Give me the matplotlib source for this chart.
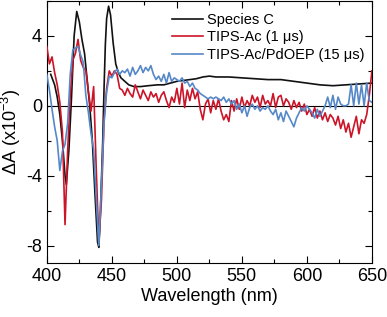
import numpy as np
import matplotlib
matplotlib.use("Agg")
import matplotlib.pyplot as plt
from matplotlib.ticker import MultipleLocator

plt.rcParams['font.family'] = ['Liberation Sans', 'DejaVu Sans']
plt.rcParams['mathtext.fontset'] = 'custom'
plt.rcParams['mathtext.rm'] = 'Liberation Sans'
plt.rcParams['mathtext.it'] = 'Liberation Sans:italic'
plt.rcParams['axes.unicode_minus'] = False

# Species C (smooth spectrum)
wl_c = [403, 406, 408, 410, 412, 414, 415, 417, 419, 421, 423, 425, 427, 429,
        431, 433, 435, 437, 439, 440, 441, 443, 444, 445, 446, 447.5, 449, 451,
        453, 455, 457, 460, 463, 467, 472, 478, 485, 490, 495, 500, 505, 510,
        515, 520, 525, 530, 540, 550, 560, 570, 580, 590, 600, 610, 620, 630,
        640, 650]
species_c = [1.8, 1.2, 0.5, -0.5, -2.0, -4.0, -4.5, -2.5, 0.5, 4.0, 5.4, 4.8,
             3.8, 3.0, 1.5, 0.0, -2.0, -5.0, -7.8, -8.1, -6.5, -2.0, 1.0, 3.5,
             5.0, 5.7, 5.2, 3.6, 2.4, 1.9, 1.6, 1.4, 1.2, 1.1, 1.1, 1.15, 1.2,
             1.2, 1.3, 1.4, 1.45, 1.5, 1.55, 1.65, 1.7, 1.65, 1.65, 1.6, 1.55,
             1.5, 1.5, 1.4, 1.3, 1.2, 1.15, 1.2, 1.25, 1.3]

# noisy spectra, every 2 nm from 400 to 650
wl = list(range(400, 651, 2))
tips_ac = [3.4, 2.4, 2.8, 1.9, 1.2, 0.2, -1.5, -6.8, -2.6, 0.6,
           2.6, 3.0, 3.8, 2.6, 2.2, 2.0, 0.8, -0.3, 1.1, -3.6,
           -7.8, -5.4, -0.8, 1.0, 2.0, 1.7, 2.0, 1.8, 1.0, 0.9,
           0.6, 1.0, 0.7, 0.5, 1.2, 0.8, 0.4, 0.9, 0.6, 0.3,
           0.8, 0.5, 0.7, 0.2, 0.6, 0.8, 0.3, -0.1, 0.5, 0.2,
           1.0, 0.1, 1.3, -0.1, 0.9, 0.3, 1.0, 0.4, 0.8, -0.2,
           -0.8, 0.1, 0.4, -0.4, 0.3, -0.2, 0.4, -0.3, -0.8, -0.5,
           -0.9, 0.3, -0.3, 0.4, -0.2, 0.5, -0.1, 0.3, 0.0, 0.6,
           0.2, 0.5, -0.1, 0.6, 0.1, 0.3, 0.0, 0.7, -0.1, 0.5,
           0.6, 0.0, 0.4, 0.2, -0.2, 0.3, -0.1, 0.2, -0.3, 0.1,
           -0.5, -0.2, -0.6, -0.1, -0.7, -0.3, -0.8, -0.4, -0.9, -0.5,
           -0.7, -1.1, -0.6, -1.3, -0.8, -1.5, -1.0, -1.8, -1.2, -0.6,
           -1.6, -0.8, -1.0, -0.5, 0.6, 2.0]
tips_pdoep = [1.8, 0.9, -0.2, -1.2, -2.0, -3.7, -2.6, -2.2, -1.0, 1.8,
              3.2, 3.3, 3.4, 2.9, 2.5, 0.6, -0.4, -1.6, -2.5, -5.3,
              -8.0, -4.5, -1.0, 0.8, 1.7, 1.6, 1.9, 2.1, 1.8, 2.0,
              1.9, 2.1, 1.7, 2.2, 1.8, 2.0, 2.3, 1.9, 2.2, 2.0,
              2.3, 1.8, 1.5, 1.7, 1.4, 1.8, 1.3, 1.9, 1.4, 1.6,
              1.5, 1.4, 1.6, 1.3, 1.4, 1.1, 1.3, 1.0, 0.9, 0.7,
              0.6, 0.5, 0.4, 0.5, 0.4, 0.5, 0.4, 0.3, 0.5, 0.2,
              0.4, 0.1, 0.3, -0.2, 0.1, -0.4, 0.0, -0.6, -0.1, 0.1,
              -0.2, 0.0, -0.3, -0.1, -0.2, 0.0, -0.3, -0.5, -0.2, -0.8,
              -0.4, -0.9, -0.3, -0.6, -0.9, -1.2, -0.7, -0.4, -0.1, -0.3,
              0.0, -0.2, -0.4, -0.7, -0.2, -0.6, -0.3, 0.0, 0.5, -0.1,
              0.6, -0.2, 0.5, 0.1, 0.0, 0.0, 0.1, 1.2, 0.0, 1.3,
              0.1, 1.2, 0.0, 1.3, 0.3, 0.2]

fig = plt.figure(figsize=(3.87, 3.17), dpi=100)
ax = fig.add_axes([0.121, 0.170, 0.840, 0.827])

ax.axhline(0, color='black', lw=0.8, zorder=1)
ax.plot(wl_c, species_c, color='#111111', lw=1.2, label='Species C', zorder=2)
ax.plot(wl, tips_ac, color='#cc1428', lw=1.2, label='TIPS-Ac (1 \u03bcs)', zorder=3)
ax.plot(wl, tips_pdoep, color='#5588c8', lw=1.2, label='TIPS-Ac/PdOEP (15 \u03bcs)', zorder=4)

ax.set_xlim(400, 650)
ax.set_ylim(-9, 6)
ax.xaxis.set_major_locator(MultipleLocator(50))
ax.xaxis.set_minor_locator(MultipleLocator(25))
ax.yaxis.set_major_locator(MultipleLocator(4))
ax.yaxis.set_minor_locator(MultipleLocator(2))
ax.tick_params(which='both', direction='in', top=True, right=True, labelsize=13, width=0.8)
ax.tick_params(which='major', length=5)
ax.tick_params(which='minor', length=3)
for s in ax.spines.values():
    s.set_linewidth(0.8)

ax.set_xlabel('Wavelength (nm)', fontsize=13, labelpad=2)
ax.set_ylabel('\u0394A (x10$^{-3}$)', fontsize=13, labelpad=2)

ax.legend(loc='upper left', bbox_to_anchor=(0.385, 0.955), frameon=False,
          fontsize=10.5, handlelength=2.1, handletextpad=0.3, labelspacing=0.25,
          borderpad=0, borderaxespad=0)

fig.savefig('out.png', dpi=100)
